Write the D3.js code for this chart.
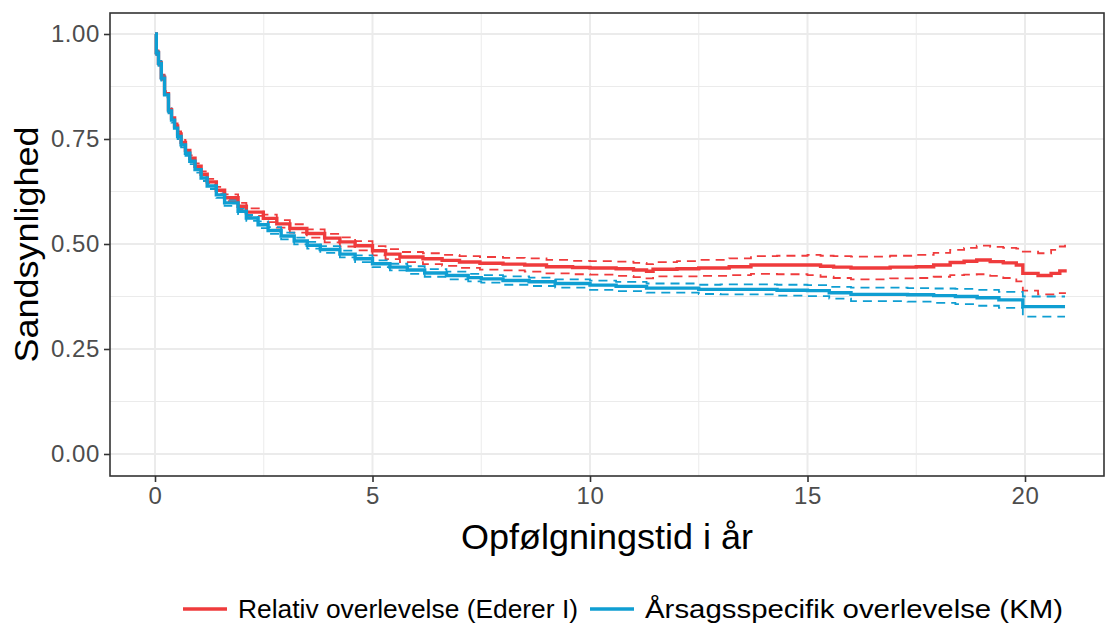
<!DOCTYPE html>
<html>
<head>
<meta charset="utf-8">
<script src="https://cdn.jsdelivr.net/npm/d3@7"></script>
<style>
  body { margin: 0; background: #fff; }
  text { font-family: "Liberation Sans", Arial, sans-serif; }
</style>
</head>
<body>
<div id="chart"></div>
<script>
// Relative survival (Ederer I): time, estimate, lower, upper
const redTime = [0, 0.03, 0.08, 0.145, 0.22, 0.31, 0.38, 0.45, 0.52, 0.60, 0.70, 0.80, 0.92, 1.06, 1.20, 1.41, 1.60, 1.91, 2.10, 2.49,
  2.80, 3.10, 3.49, 3.90, 4.25, 4.60, 5.00, 5.30, 5.63, 6.16, 6.60, 7.00, 7.47, 8.00, 8.50, 9.00, 9.60, 10.00, 10.60, 11.00,
  11.30, 11.45, 12.00, 12.50, 13.20, 13.70, 14.30, 15.00, 15.30, 15.60, 16.00, 16.50, 16.90, 17.50, 17.90, 18.28, 18.60, 18.89, 19.20, 19.50,
  19.80, 19.95, 20.30, 20.60, 20.80, 20.92];
const redEst = [1.000, 0.956, 0.931, 0.897, 0.858, 0.820, 0.800, 0.781, 0.762, 0.742, 0.723, 0.704, 0.685, 0.666, 0.648, 0.628, 0.610, 0.590, 0.576, 0.561,
  0.548, 0.537, 0.525, 0.514, 0.505, 0.496, 0.484, 0.476, 0.469, 0.465, 0.461, 0.457, 0.454, 0.452, 0.450, 0.446, 0.444, 0.443, 0.441, 0.438,
  0.435, 0.440, 0.441, 0.443, 0.446, 0.450, 0.450, 0.450, 0.447, 0.445, 0.443, 0.443, 0.445, 0.446, 0.450, 0.456, 0.459, 0.462, 0.458, 0.455,
  0.450, 0.430, 0.425, 0.430, 0.436, 0.440];
const redLo = [1.000, 0.951, 0.926, 0.891, 0.852, 0.814, 0.794, 0.775, 0.756, 0.736, 0.717, 0.697, 0.678, 0.659, 0.641, 0.620, 0.602, 0.582, 0.567, 0.552,
  0.539, 0.527, 0.515, 0.504, 0.494, 0.485, 0.473, 0.464, 0.457, 0.452, 0.448, 0.443, 0.439, 0.437, 0.434, 0.430, 0.428, 0.427, 0.424, 0.421,
  0.418, 0.423, 0.423, 0.424, 0.426, 0.429, 0.428, 0.426, 0.422, 0.419, 0.416, 0.416, 0.418, 0.419, 0.422, 0.426, 0.427, 0.428, 0.424, 0.419,
  0.411, 0.389, 0.380, 0.380, 0.383, 0.385];
const redHi = [1.000, 0.961, 0.936, 0.903, 0.864, 0.826, 0.806, 0.787, 0.768, 0.748, 0.729, 0.711, 0.692, 0.673, 0.655, 0.636, 0.618, 0.598, 0.585, 0.570,
  0.557, 0.547, 0.535, 0.524, 0.516, 0.507, 0.495, 0.488, 0.481, 0.478, 0.474, 0.471, 0.469, 0.467, 0.466, 0.462, 0.460, 0.459, 0.458, 0.455,
  0.452, 0.457, 0.459, 0.462, 0.466, 0.471, 0.472, 0.474, 0.472, 0.471, 0.470, 0.470, 0.472, 0.474, 0.479, 0.486, 0.491, 0.496, 0.493, 0.491,
  0.489, 0.482, 0.478, 0.486, 0.494, 0.498];

// Cause-specific survival (KM): time, estimate, lower, upper
const blueTime = [0, 0.03, 0.08, 0.145, 0.22, 0.31, 0.38, 0.45, 0.52, 0.60, 0.70, 0.80, 0.92, 1.06, 1.20, 1.41, 1.60, 1.91, 2.10, 2.37,
  2.60, 2.90, 3.20, 3.50, 3.80, 4.25, 4.60, 5.00, 5.40, 5.80, 6.20, 6.70, 7.20, 7.50, 8.00, 8.60, 9.20, 10.00, 10.60, 11.30,
  12.00, 12.50, 13.00, 13.70, 14.30, 15.00, 15.50, 16.00, 16.60, 17.30, 17.90, 18.40, 18.90, 19.40, 19.95, 20.92];
const blueEst = [1.000, 0.955, 0.930, 0.895, 0.855, 0.817, 0.795, 0.776, 0.756, 0.736, 0.716, 0.697, 0.677, 0.657, 0.638, 0.617, 0.598, 0.578, 0.562, 0.546,
  0.532, 0.519, 0.507, 0.497, 0.487, 0.476, 0.465, 0.453, 0.445, 0.438, 0.431, 0.425, 0.420, 0.417, 0.413, 0.410, 0.406, 0.402, 0.399, 0.395,
  0.395, 0.392, 0.392, 0.392, 0.390, 0.389, 0.384, 0.380, 0.380, 0.379, 0.377, 0.375, 0.372, 0.367, 0.351, 0.351];
const blueLo = [1.000, 0.950, 0.924, 0.889, 0.849, 0.811, 0.789, 0.770, 0.750, 0.730, 0.710, 0.690, 0.670, 0.650, 0.631, 0.610, 0.591, 0.571, 0.555, 0.538,
  0.524, 0.511, 0.499, 0.489, 0.479, 0.468, 0.457, 0.445, 0.437, 0.429, 0.422, 0.416, 0.411, 0.408, 0.403, 0.400, 0.396, 0.391, 0.388, 0.384,
  0.384, 0.381, 0.380, 0.380, 0.377, 0.376, 0.370, 0.364, 0.364, 0.363, 0.360, 0.357, 0.353, 0.348, 0.327, 0.327];
const blueHi = [1.000, 0.960, 0.936, 0.901, 0.861, 0.823, 0.801, 0.782, 0.762, 0.742, 0.722, 0.704, 0.684, 0.664, 0.645, 0.624, 0.605, 0.585, 0.569, 0.554,
  0.540, 0.527, 0.515, 0.505, 0.495, 0.484, 0.473, 0.461, 0.453, 0.447, 0.440, 0.434, 0.429, 0.426, 0.423, 0.420, 0.416, 0.413, 0.410, 0.406,
  0.406, 0.403, 0.404, 0.404, 0.403, 0.402, 0.398, 0.396, 0.396, 0.395, 0.394, 0.393, 0.391, 0.386, 0.375, 0.375];

const xTicks = [0, 5, 10, 15, 20];
const xMinor = [2.5, 7.5, 12.5, 17.5];
const yTicks = [0, 0.25, 0.5, 0.75, 1];
const yMinor = [0.125, 0.375, 0.625, 0.875];
const seriesNames = ["Relativ overlevelse (Ederer I)", "Årsagsspecifik overlevelse (KM)"];
const seriesColors = ["#EF3B3C", "#0F9ED2"];

const W = 1105, H = 628;
const panel = { left: 110, right: 1104, top: 13, bottom: 476 };
// text widths as rendered in the reference (GDI-hinted Arial runs wider)
const legendTextWidths = [340, 418];

const svg = d3.select("#chart").append("svg")
  .attr("width", W)
  .attr("height", H);

const x = d3.scaleLinear().domain([-1.0345, 21.816]).range([panel.left, panel.right]);
const y = d3.scaleLinear().domain([-0.0524, 1.05]).range([panel.bottom, panel.top]);

// panel grid
const grid = svg.append("g");
grid.selectAll(".xminor").data(xMinor).enter().append("line")
  .attr("x1", d => x(d)).attr("x2", d => x(d))
  .attr("y1", panel.top).attr("y2", panel.bottom)
  .attr("stroke", "#EBEBEB").attr("stroke-width", 1);
grid.selectAll(".yminor").data(yMinor).enter().append("line")
  .attr("x1", panel.left).attr("x2", panel.right)
  .attr("y1", d => y(d)).attr("y2", d => y(d))
  .attr("stroke", "#EBEBEB").attr("stroke-width", 1);
grid.selectAll(".xmajor").data(xTicks).enter().append("line")
  .attr("x1", d => x(d)).attr("x2", d => x(d))
  .attr("y1", panel.top).attr("y2", panel.bottom)
  .attr("stroke", "#EBEBEB").attr("stroke-width", 2);
grid.selectAll(".ymajor").data(yTicks).enter().append("line")
  .attr("x1", panel.left).attr("x2", panel.right)
  .attr("y1", d => y(d)).attr("y2", d => y(d))
  .attr("stroke", "#EBEBEB").attr("stroke-width", 2);

// curves
const zip = (t, v) => t.map((d, i) => [d, v[i]]);
const step = d3.line().x(d => x(d[0])).y(d => y(d[1])).curve(d3.curveStepAfter);

const curves = [
  { color: seriesColors[0], est: zip(redTime, redEst), lo: zip(redTime, redLo), hi: zip(redTime, redHi) },
  { color: seriesColors[1], est: zip(blueTime, blueEst), lo: zip(blueTime, blueLo), hi: zip(blueTime, blueHi) }
];

const plot = svg.append("g");
for (const c of curves) {
  for (const band of [c.lo, c.hi]) {
    plot.append("path").datum(band)
      .attr("d", step)
      .attr("fill", "none")
      .attr("stroke", c.color)
      .attr("stroke-width", 1.8)
      .attr("stroke-dasharray", "9,6");
  }
}
for (const c of curves) {
  plot.append("path").datum(c.est)
    .attr("d", step)
    .attr("fill", "none")
    .attr("stroke", c.color)
    .attr("stroke-width", 3.4);
}

// panel border
svg.append("rect")
  .attr("x", panel.left).attr("y", panel.top)
  .attr("width", panel.right - panel.left).attr("height", panel.bottom - panel.top)
  .attr("fill", "none").attr("stroke", "#333333").attr("stroke-width", 1.6);

// axes
const xAxis = svg.append("g")
  .attr("transform", "translate(0," + panel.bottom + ")")
  .call(d3.axisBottom(x).tickValues(xTicks).tickFormat(d3.format("d")).tickSize(6).tickPadding(5));
const yAxis = svg.append("g")
  .attr("transform", "translate(" + panel.left + ",0)")
  .call(d3.axisLeft(y).tickValues(yTicks).tickFormat(d3.format(".2f")).tickSize(6).tickPadding(4));

for (const ax of [xAxis, yAxis]) {
  ax.select(".domain").remove();
  ax.selectAll(".tick line").attr("stroke", "#333333").attr("stroke-width", 1.6);
  ax.selectAll(".tick text")
    .attr("fill", "#4D4D4D")
    .style("font-size", "24px")
    .style("letter-spacing", "0.6px")
    .style("font-family", "'Liberation Sans', Arial, sans-serif");
}

// axis titles
svg.append("text")
  .attr("x", (panel.left + panel.right) / 2)
  .attr("y", 549)
  .attr("text-anchor", "middle")
  .attr("textLength", 292)
  .attr("lengthAdjust", "spacingAndGlyphs")
  .style("font-size", "35px")
  .attr("fill", "#000")
  .text("Opfølgningstid i år");

svg.append("text")
  .attr("transform", "translate(38," + (panel.top + panel.bottom) / 2 + ") rotate(-90)")
  .attr("text-anchor", "middle")
  .attr("textLength", 236)
  .attr("lengthAdjust", "spacingAndGlyphs")
  .style("font-size", "34px")
  .attr("fill", "#000")
  .text("Sandsynlighed");

// legend
const legend = svg.append("g").attr("transform", "translate(183,609)");
let lx = 0;
seriesNames.forEach((name, i) => {
  legend.append("line")
    .attr("x1", lx).attr("x2", lx + 44)
    .attr("y1", 0).attr("y2", 0)
    .attr("stroke", seriesColors[i]).attr("stroke-width", 3.4);
  legend.append("text")
    .attr("x", lx + 55).attr("y", 9)
    .attr("textLength", legendTextWidths[i])
    .attr("lengthAdjust", "spacingAndGlyphs")
    .style("font-size", "25px")
    .attr("fill", "#000")
    .text(name);
  lx += 55 + legendTextWidths[i] + 12;
});
</script>
</body>
</html>
